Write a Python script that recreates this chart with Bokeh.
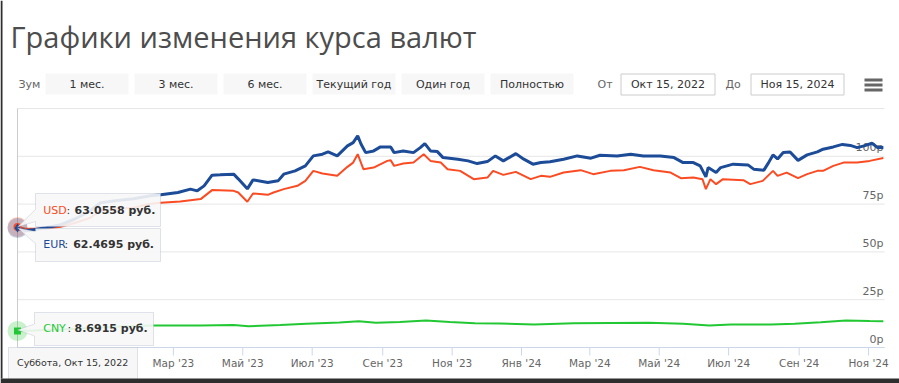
import math
import pandas as pd
from bokeh.plotting import figure
from bokeh.models import Range1d, Label, BoxAnnotation, PolyAnnotation
from bokeh.core.properties import value
from bokeh.embed import file_html
from bokeh.resources import INLINE

# ---------------- texts ----------------
title_text = "Графики изменения курса валют"
zoom_label = "Зум"
zoom_buttons = ["1 мес.", "3 мес.", "6 мес.", "Текущий год", "Один год", "Полностью"]
from_label, to_label = "От", "До"
from_date_text, to_date_text = "Окт 15, 2022", "Ноя 15, 2024"
hover_date_text = "Суббота, Окт 15, 2022"
currency_unit = "руб."

# ---------------- axes ----------------
view_start, view_end = "2022-10-15", "2024-11-15"
y_min, y_max = 0, 125
x_tick_dates = ["2023-03-01", "2023-05-01", "2023-07-01", "2023-09-01", "2023-11-01", "2024-01-01",
                "2024-03-01", "2024-05-01", "2024-07-01", "2024-09-01", "2024-11-01"]
x_tick_labels = ["Мар '23", "Май '23", "Июл '23", "Сен '23", "Ноя '23", "Янв '24",
                 "Мар '24", "Май '24", "Июл '24", "Сен '24", "Ноя '24"]
y_grid_ticks = [0, 25, 50, 75, 100, 125]
y_label_values = [0, 25, 50, 75, 100]
y_label_texts = ["0р", "25р", "50р", "75р", "100р"]

# ---------------- data ----------------
eur_dates = ["2022-10-15", "2022-10-22", "2022-10-29", "2022-11-09", "2022-11-22", "2022-12-05", "2022-12-18", "2022-12-27", "2023-01-09", "2023-01-25",
             "2023-02-09", "2023-02-18", "2023-03-05", "2023-03-16", "2023-03-22", "2023-03-28", "2023-04-04", "2023-04-11", "2023-04-23", "2023-04-27",
             "2023-05-05", "2023-05-10", "2023-05-23", "2023-06-01", "2023-06-06", "2023-06-16", "2023-06-25", "2023-07-02", "2023-07-10", "2023-07-15",
             "2023-07-23", "2023-08-01", "2023-08-06", "2023-08-10", "2023-08-13", "2023-08-17", "2023-08-24", "2023-08-30", "2023-09-08", "2023-09-11",
             "2023-09-19", "2023-09-28", "2023-10-04", "2023-10-08", "2023-10-13", "2023-10-19", "2023-10-24", "2023-11-06", "2023-11-15", "2023-11-23",
             "2023-12-02", "2023-12-09", "2023-12-16", "2023-12-27", "2024-01-03", "2024-01-11", "2024-01-18", "2024-01-26", "2024-02-07", "2024-02-19",
             "2024-03-02", "2024-03-10", "2024-03-25", "2024-04-06", "2024-04-17", "2024-05-02", "2024-05-14", "2024-05-22", "2024-05-31", "2024-06-06",
             "2024-06-11", "2024-06-13", "2024-06-20", "2024-06-24", "2024-07-05", "2024-07-18", "2024-07-23", "2024-08-01", "2024-08-05", "2024-08-09",
             "2024-08-13", "2024-08-18", "2024-08-24", "2024-08-31", "2024-09-08", "2024-09-17", "2024-09-22", "2024-10-01", "2024-10-09", "2024-10-16",
             "2024-10-22", "2024-10-28", "2024-11-04", "2024-11-09", "2024-11-14"]
eur_values = [62.4695, 61.06, 61.59, 62.63, 64.20, 67.33, 71.50, 75.68, 76.72, 77.77,
              79.33, 79.85, 81.05, 82.83, 81.94, 84.55, 90.14, 90.29, 90.66, 88.20,
              82.99, 87.68, 86.27, 87.16, 90.66, 92.38, 94.99, 100.21, 101.10, 102.30,
              100.21, 105.43, 107.15, 110.65, 106.32, 101.93, 102.82, 104.91, 104.91, 101.93,
              102.82, 101.93, 104.54, 106.63, 102.82, 102.45, 99.32, 98.49, 97.60, 96.19,
              97.23, 100.21, 97.60, 101.41, 98.49, 95.88, 96.71, 97.10, 98.49, 100.21,
              99.01, 100.57, 100.21, 101.10, 100.21, 100.21, 99.32, 96.71, 96.71, 94.99,
              89.25, 94.10, 91.49, 94.10, 95.88, 95.51, 93.27, 92.75, 96.56, 100.73,
              98.64, 102.04, 102.30, 97.86, 100.73, 102.30, 103.71, 104.91, 106.21, 105.69,
              104.54, 105.43, 106.84, 104.54, 104.54]

usd_dates = ["2022-10-15", "2022-10-22", "2022-10-29", "2022-11-09", "2022-11-22", "2022-12-05", "2022-12-18", "2022-12-27", "2023-01-09", "2023-01-25",
             "2023-02-09", "2023-02-18", "2023-03-07", "2023-03-25", "2023-04-04", "2023-04-23", "2023-04-27", "2023-05-05", "2023-05-10", "2023-05-23",
             "2023-05-28", "2023-06-06", "2023-06-18", "2023-06-25", "2023-07-02", "2023-07-10", "2023-07-23", "2023-08-01", "2023-08-06", "2023-08-10",
             "2023-08-15", "2023-08-24", "2023-09-05", "2023-09-08", "2023-09-11", "2023-09-19", "2023-09-28", "2023-10-07", "2023-10-13", "2023-10-22",
             "2023-10-28", "2023-11-08", "2023-11-20", "2023-12-02", "2023-12-07", "2023-12-16", "2023-12-27", "2024-01-09", "2024-01-18", "2024-01-26",
             "2024-02-07", "2024-02-22", "2024-03-04", "2024-03-19", "2024-03-31", "2024-04-14", "2024-04-26", "2024-05-11", "2024-05-20", "2024-05-31",
             "2024-06-08", "2024-06-11", "2024-06-15", "2024-06-20", "2024-06-26", "2024-07-14", "2024-07-20", "2024-07-31", "2024-08-09", "2024-08-13",
             "2024-08-21", "2024-08-31", "2024-09-08", "2024-09-17", "2024-09-22", "2024-10-01", "2024-10-10", "2024-10-22", "2024-11-02", "2024-11-14"]
usd_values = [63.0558, 62.11, 62.11, 62.11, 63.15, 65.24, 67.85, 71.50, 72.55, 73.07,
              75.16, 75.68, 76.36, 77.61, 82.31, 81.94, 81.05, 76.20, 80.53, 79.85,
              81.05, 82.83, 84.55, 87.16, 92.38, 90.97, 89.77, 94.47, 96.71, 101.10,
              93.27, 94.10, 97.60, 97.96, 94.99, 96.19, 96.71, 101.10, 97.60, 96.71,
              93.27, 92.38, 88.05, 88.88, 92.38, 90.29, 91.86, 88.05, 89.77, 89.25,
              91.49, 92.75, 90.66, 92.38, 92.75, 94.47, 92.75, 91.49, 88.57, 88.88,
              88.05, 82.83, 88.05, 85.44, 88.05, 87.53, 85.44, 87.16, 92.38, 89.77,
              91.49, 88.57, 90.66, 92.38, 92.38, 94.99, 96.71, 96.71, 97.60, 99.16]

cny_dates = ["2022-10-15", "2022-10-29", "2022-11-22", "2022-12-18", "2023-01-13", "2023-02-11", "2023-03-25", "2023-04-23",
             "2023-05-06", "2023-06-03", "2023-06-26", "2023-07-25", "2023-08-11", "2023-08-26", "2023-09-16", "2023-10-09",
             "2023-10-30", "2023-11-21", "2023-12-13", "2024-01-12", "2024-02-16", "2024-03-19", "2024-04-22", "2024-05-22",
             "2024-06-14", "2024-07-03", "2024-08-07", "2024-08-28", "2024-09-20", "2024-10-12", "2024-11-02", "2024-11-14"]
cny_values = [8.6915, 8.87, 9.39, 10.18, 10.96, 11.48, 11.48, 11.74,
              11.12, 11.74, 12.37, 13.05, 13.73, 12.89, 13.31, 14.09,
              13.31, 12.68, 12.53, 12.00, 12.68, 12.79, 12.89, 12.37,
              11.48, 12.00, 12.00, 12.37, 13.20, 14.09, 13.83, 13.73]

# ---------------- styles / layout ----------------
EUR_COLOR = "#1c4b98"
USD_COLOR = "#fa4b23"
CNY_COLOR = "#22c833"
TEXT_DARK = "#333333"
TEXT_GREY = "#666666"
GRID_COLOR = "#e6e6e6"
AXIS_COLOR = "#ccd6eb"
BTN_FILL = "#f7f7f7"
TIP_FILL = "#f7f7f7"
TIP_LINE = "#9aa6ba"
UI_FONT = "DejaVu Sans"

W, H = 899, 383
PLOT_L, PLOT_R, PLOT_T, PLOT_B = 17, 884, 108, 347   # pixel box of the plotting area

t0, t1 = pd.Timestamp(view_start), pd.Timestamp(view_end)
x_per_px = (t1 - t0) / (PLOT_R - PLOT_L)
y_per_px = (y_max - y_min) / (PLOT_B - PLOT_T)
x_range = Range1d(t0 - x_per_px * PLOT_L, t1 + x_per_px * (W - PLOT_R))
y_range = Range1d(y_min - y_per_px * (H - PLOT_B), y_max + y_per_px * PLOT_T)


def sx(X):
    return X


def sy(Y):
    return H - Y


def ts(lst):
    return [pd.Timestamp(d) for d in lst]


p = figure(width=W, height=H, x_axis_location=None, y_axis_location=None,
           x_range=x_range, y_range=y_range,
           output_backend="svg", toolbar_location=None, min_border=0)
p.outline_line_color = None
p.background_fill_color = "white"
p.border_fill_color = "white"
p.grid.visible = False

# grid lines across the plotting area
n = len(y_grid_ticks)
p.segment(x0=[t0] * n, y0=y_grid_ticks, x1=[t1] * n, y1=y_grid_ticks,
          line_color=GRID_COLOR, line_width=1)

# y labels inside the plot, right aligned
p.text(x=[t1] * len(y_label_values), y=y_label_values, text=y_label_texts,
       text_align="right", text_baseline="bottom", x_offset=-1, y_offset=-2,
       text_font=value(UI_FONT), text_font_size="11px", text_color=TEXT_GREY)

# x axis: line, ticks, labels
p.segment(x0=[t0], y0=[y_min], x1=[t1], y1=[y_min], line_color=AXIS_COLOR, line_width=1)
xt = ts(x_tick_dates)
p.ray(x=xt, y=[y_min] * len(xt), length=8, length_units="screen", angle=-math.pi / 2,
      line_color=AXIS_COLOR, line_width=1)
p.text(x=xt, y=[y_min] * len(xt), text=x_tick_labels, text_align="center", text_baseline="top",
       y_offset=9, text_font=value(UI_FONT), text_font_size="10.5px", text_color=TEXT_GREY)

# crosshair at hovered point
p.segment(x0=[pd.Timestamp(eur_dates[0])], y0=[y_min], x1=[pd.Timestamp(eur_dates[0])], y1=[y_max],
          line_color="#cccccc", line_width=1)

# series
p.line(ts(usd_dates), usd_values, line_color=USD_COLOR, line_width=2)
p.line(ts(eur_dates), eur_values, line_color=EUR_COLOR, line_width=3)
p.line(ts(cny_dates), cny_values, line_color=CNY_COLOR, line_width=2)

# hover halos and markers on the first point
for d, v, c in [(usd_dates[0], usd_values[0], USD_COLOR), (eur_dates[0], eur_values[0], EUR_COLOR),
                (cny_dates[0], cny_values[0], CNY_COLOR)]:
    p.scatter([pd.Timestamp(d)], [v], size=20, marker="circle", fill_color=c, fill_alpha=0.25, line_color=None)
p.scatter([pd.Timestamp(usd_dates[0])], [usd_values[0]], size=8, marker="circle", fill_color=USD_COLOR, line_color=None)
p.scatter([pd.Timestamp(eur_dates[0])], [eur_values[0]], size=9, marker="diamond", fill_color=EUR_COLOR, line_color=None)
p.scatter([pd.Timestamp(cny_dates[0])], [cny_values[0]], size=7, marker="square", fill_color=CNY_COLOR, line_color=None)


def text(X, Y, t, size="11px", color=TEXT_DARK, font=UI_FONT, style="normal", align="left", baseline="middle"):
    p.add_layout(Label(x=sx(X), y=sy(Y), x_units="screen", y_units="screen", text=t,
                       text_font=font, text_font_size=size, text_color=color, text_font_style=style,
                       text_align=align, text_baseline=baseline))


def box(X1, Y1, X2, Y2, fill, line=None, alpha=1.0):
    p.add_layout(BoxAnnotation(left=sx(X1), right=sx(X2), top=sy(Y1), bottom=sy(Y2),
                               left_units="screen", right_units="screen",
                               top_units="screen", bottom_units="screen",
                               fill_color=fill, fill_alpha=alpha,
                               line_color=line if line else "white", line_alpha=1.0 if line else 0.0,
                               line_width=1))


def poly(xs, ys, fill=TIP_FILL, line=TIP_LINE, alpha=0.9):
    p.add_layout(PolyAnnotation(xs=[sx(x) for x in xs], ys=[sy(y) for y in ys],
                                xs_units="screen", ys_units="screen",
                                fill_color=fill, fill_alpha=alpha, line_color=line, line_width=1))


# title
text(10, 36, title_text, size="29px", color="#4d4d4d", font="Open Sans", baseline="alphabetic")

# range selector
text(18, 83.5, zoom_label, color=TEXT_GREY)
for i, lab in enumerate(zoom_buttons):
    x0 = 45 + 89 * i
    box(x0, 73, x0 + 83, 94, BTN_FILL)
    text(x0 + 41.5, 83.5, lab, align="center")
text(597, 83.5, from_label, color=TEXT_GREY)
box(620.5, 73.5, 714.5, 94.5, "white", line="#cccccc")
text(667.5, 84, from_date_text, align="center")
text(725, 83.5, to_label, color=TEXT_GREY)
box(750.5, 73.5, 843.5, 94.5, "white", line="#cccccc")
text(797, 84, to_date_text, align="center")
for yb in (78, 83, 88):
    box(864, yb, 882, yb + 3, "#666666")

# tooltips
poly([35, 160, 160, 35, 35, 17, 35], [193, 193, 226, 226, 221, 226.5, 209])
poly([35, 160, 160, 35, 35, 17, 35], [228, 228, 261, 261, 243, 227.5, 231])
poly([34, 153, 153, 34, 34, 17, 34], [312, 312, 345, 345, 335.5, 329.5, 323.5])
poly([8, 137, 137, 8], [347, 347, 380, 380], alpha=0.95)

text(42.7, 210, "USD", color=USD_COLOR)
text(66, 210, ":", color=TEXT_DARK)
text(74, 210, f"{usd_values[0]:.4f} {currency_unit}", style="bold")
text(42.7, 244, "EUR", color=EUR_COLOR)
text(64, 244, ":", color=TEXT_DARK)
text(72.7, 244, f"{eur_values[0]:.4f} {currency_unit}", style="bold")
text(42.7, 328, "CNY", color=CNY_COLOR)
text(67, 328, ":", color=TEXT_DARK)
text(74, 328, f"{cny_values[0]:.4f} {currency_unit}", style="bold")
text(16.5, 362, hover_date_text, size="9.5px")

# dark window edges seen in the screenshot
box(0, 0, 2, 378, "#2e2e2e")
box(0, 378, W, H, "#2e2e2e")

open("out.html", "w").write(file_html(p, INLINE))
